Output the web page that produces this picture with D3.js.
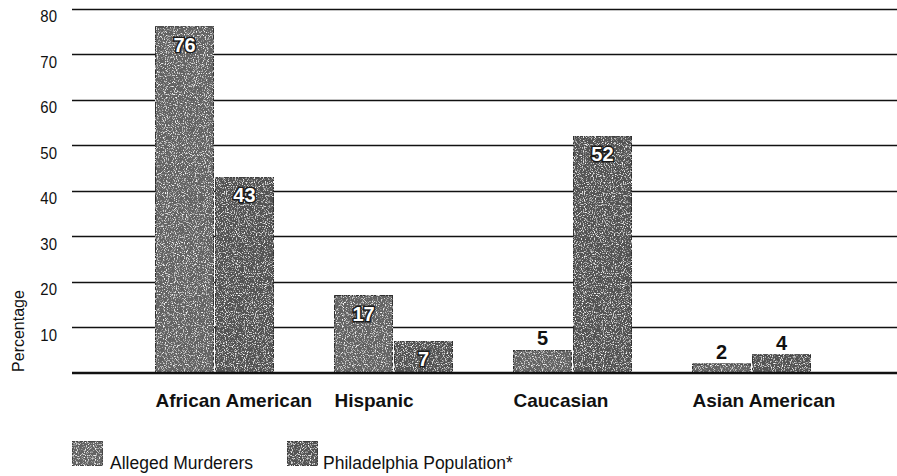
<!DOCTYPE html>
<html>
<head>
<meta charset="utf-8">
<script src="https://cdn.jsdelivr.net/npm/d3@7"></script>
<style>
  html, body { margin: 0; padding: 0; background: #fff; }
  svg { display: block; }
  svg text { font-family: "Liberation Sans", Arial, Helvetica, sans-serif; }
</style>
</head>
<body>
<svg id="chart" width="897" height="476"></svg>
<script>
// Share of alleged murderers vs. city population, by group (percent)
const categories = ["African American", "Hispanic", "Caucasian", "Asian American"];
const seriesNames = ["Alleged Murderers", "Philadelphia Population*"];
const allegedMurderers = [76, 17, 5, 2];
const philadelphiaPopulation = [43, 7, 52, 4];
const yTicks = [10, 20, 30, 40, 50, 60, 70, 80];
const insideLabels = [true, true, false, false];   // per group, murderers
const insideLabelsPop = [true, true, true, false]; // per group, population

const seriesValues = [allegedMurderers, philadelphiaPopulation];
const seriesFill = ["#646464", "#525252"];

const svg = d3.select("#chart");

// grainy print texture for the bars
const defs = svg.append("defs");
const f = defs.append("filter").attr("id", "grain")
  .attr("x", 0).attr("y", 0).attr("width", 1).attr("height", 1);
f.append("feTurbulence").attr("type", "fractalNoise")
  .attr("baseFrequency", 0.9).attr("numOctaves", 2).attr("seed", 3).attr("result", "noise");
f.append("feColorMatrix").attr("in", "noise").attr("type", "matrix")
  .attr("values", "0 0 0 0 1  0 0 0 0 1  0 0 0 0 1  3.6 0 0 0 -1.9")
  .attr("result", "specks");
f.append("feComposite").attr("in", "specks").attr("in2", "SourceAlpha").attr("operator", "in").attr("result", "specksIn");
const m = f.append("feMerge");
m.append("feMergeNode").attr("in", "SourceGraphic");
m.append("feMergeNode").attr("in", "specksIn");

const plotLeft = 72, plotRight = 897;
const y = d3.scaleLinear().domain([0, 80]).range([373, 8.5]);

const x = d3.scaleBand().domain(categories).range([125, 841])
  .paddingInner(0.34).paddingOuter(0.17);
const xs = d3.scaleBand().domain(seriesNames).range([0, x.bandwidth()]).paddingInner(0.03);

// horizontal grid lines
svg.append("g").selectAll("line").data(yTicks).join("line")
  .attr("x1", plotLeft).attr("x2", plotRight)
  .attr("y1", d => Math.round(y(d)) + 0.5).attr("y2", d => Math.round(y(d)) + 0.5)
  .attr("stroke", "#111").attr("stroke-width", 1.6);

// y axis tick labels (narrowed to a condensed look, set just below each line)
const yAxis = d3.axisLeft(y).tickValues(yTicks).tickSize(0).tickPadding(0);
const yg = svg.append("g").attr("transform", "translate(57,0)").call(yAxis);
yg.select(".domain").remove();
yg.attr("font-family", null).attr("font-size", null);
yg.selectAll("text").attr("font-size", 17).attr("fill", "#111")
  .attr("dy", "0.77em").attr("transform", "scale(0.88,1)");

// axis title
svg.append("text").attr("transform", "translate(24,331) rotate(-90)")
  .attr("text-anchor", "middle").attr("font-size", 16).attr("fill", "#111")
  .text("Percentage");

// bars
const groups = svg.append("g").selectAll("g").data(categories).join("g")
  .attr("transform", d => `translate(${x(d)},0)`);

seriesNames.forEach((s, si) => {
  groups.append("rect")
    .attr("x", xs(s)).attr("width", xs.bandwidth())
    .attr("y", (d, i) => y(seriesValues[si][i]))
    .attr("height", (d, i) => y(0) - y(seriesValues[si][i]))
    .attr("fill", seriesFill[si]).attr("stroke", "#2a2a2a").attr("stroke-width", 1)
    .attr("filter", "url(#grain)");
});

// baseline
svg.append("line").attr("x1", plotLeft).attr("x2", plotRight)
  .attr("y1", y(0)).attr("y2", y(0)).attr("stroke", "#111").attr("stroke-width", 2.4);

// value labels
const insideFlags = [insideLabels, insideLabelsPop];
seriesNames.forEach((s, si) => {
  groups.append("text")
    .attr("x", xs(s) + xs.bandwidth() / 2)
    .attr("y", (d, i) => insideFlags[si][i] ? y(seriesValues[si][i]) + 25 : y(seriesValues[si][i]) - 5)
    .attr("text-anchor", "middle").attr("font-size", 20).attr("font-weight", "bold")
    .attr("fill", (d, i) => insideFlags[si][i] ? "#fff" : "#111")
    .attr("stroke", (d, i) => insideFlags[si][i] ? "#1a1a1a" : "none")
    .attr("stroke-width", 3).attr("paint-order", "stroke")
    .text((d, i) => seriesValues[si][i]);
});

// category labels
svg.append("g").selectAll("text").data(categories).join("text")
  .attr("x", d => x(d)).attr("y", 407)
  .attr("font-size", 19).attr("font-weight", "bold").attr("fill", "#111")
  .text(d => d);

// legend
const legendX = [72, 287];
const lg = svg.append("g").selectAll("g").data(seriesNames).join("g")
  .attr("transform", (d, i) => `translate(${legendX[i]},441)`);
lg.append("rect").attr("width", 31).attr("height", 25)
  .attr("fill", (d, i) => seriesFill[i]).attr("stroke", "#2a2a2a").attr("filter", "url(#grain)");
lg.append("text").attr("x", (d, i) => i === 0 ? 38 : 36).attr("y", 28)
  .attr("font-size", 17.5).attr("fill", "#111").text(d => d);
</script>
</body>
</html>
